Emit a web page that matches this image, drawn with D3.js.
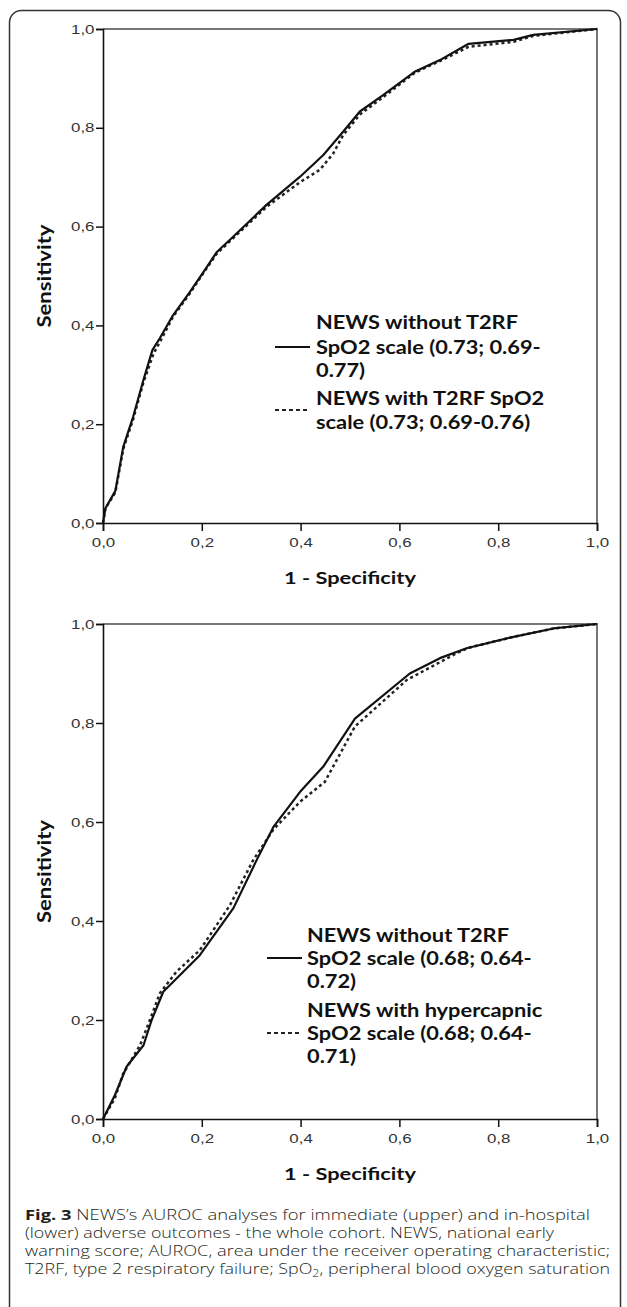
<!DOCTYPE html>
<html><head><meta charset="utf-8">
<script src="https://cdn.jsdelivr.net/npm/d3@7"></script>
<style>body{margin:0;background:#fff}</style>
</head><body>
<svg id="c" width="627" height="1307"></svg>
<script>
// ---------- data ----------
const tickValues = [0, 0.2, 0.4, 0.6, 0.8, 1.0];
const tickLabels = ["0,0", "0,2", "0,4", "0,6", "0,8", "1,0"];
const xTitle = "1 - Specificity";
const yTitle = "Sensitivity";

// upper panel (immediate adverse outcomes)
const topSolidX = [0, 0.005, 0.025, 0.041, 0.061, 0.082, 0.10, 0.115, 0.142, 0.176, 0.206, 0.23, 0.264, 0.331, 0.399, 0.446, 0.486, 0.52, 0.567, 0.632, 0.682, 0.74, 0.831, 0.871, 1];
const topSolidY = [0, 0.03, 0.065, 0.154, 0.215, 0.29, 0.35, 0.374, 0.421, 0.468, 0.512, 0.548, 0.58, 0.644, 0.701, 0.745, 0.792, 0.833, 0.866, 0.914, 0.937, 0.97, 0.978, 0.988, 1];
const topDottedX = [0, 0.005, 0.025, 0.041, 0.061, 0.082, 0.102, 0.117, 0.142, 0.176, 0.206, 0.23, 0.264, 0.331, 0.399, 0.439, 0.466, 0.486, 0.52, 0.567, 0.632, 0.682, 0.74, 0.831, 0.871, 1];
const topDottedY = [0, 0.03, 0.062, 0.15, 0.21, 0.285, 0.342, 0.37, 0.418, 0.465, 0.51, 0.545, 0.577, 0.64, 0.69, 0.715, 0.748, 0.785, 0.827, 0.862, 0.912, 0.935, 0.964, 0.974, 0.986, 1];

// lower panel (in-hospital adverse outcomes)
const botSolidX = [0, 0.024, 0.048, 0.082, 0.0985, 0.122, 0.156, 0.196, 0.264, 0.311, 0.345, 0.399, 0.446, 0.51, 0.621, 0.682, 0.736, 0.831, 0.912, 1];
const botSolidY = [0, 0.048, 0.106, 0.149, 0.2, 0.257, 0.291, 0.331, 0.426, 0.523, 0.59, 0.661, 0.712, 0.809, 0.9, 0.931, 0.951, 0.974, 0.991, 1];
const botDottedX = [0, 0.024, 0.041, 0.075, 0.095, 0.115, 0.149, 0.196, 0.257, 0.304, 0.345, 0.399, 0.449, 0.51, 0.615, 0.716, 0.74, 0.831, 0.912, 1];
const botDottedY = [0, 0.042, 0.092, 0.149, 0.2, 0.254, 0.298, 0.341, 0.432, 0.523, 0.585, 0.641, 0.681, 0.793, 0.887, 0.941, 0.952, 0.974, 0.991, 1];

const legendTopSolid = ["NEWS without T2RF", "SpO2 scale (0.73; 0.69-", "0.77)"];
const legendTopDotted = ["NEWS with T2RF SpO2", "scale (0.73; 0.69-0.76)"];
const legendBotSolid = ["NEWS without T2RF", "SpO2 scale (0.68; 0.64-", "0.72)"];
const legendBotDotted = ["NEWS with hypercapnic", "SpO2 scale (0.68; 0.64-", "0.71)"];

const captionBold = "Fig. 3";
const captionLine1 = " NEWS\u2019s AUROC analyses for immediate (upper) and in-hospital";
const captionLine2 = "(lower) adverse outcomes - the whole cohort. NEWS, national early";
const captionLine3 = "warning score; AUROC, area under the receiver operating characteristic;";
const captionLine4a = "T2RF, type 2 respiratory failure; SpO";
const captionLine4sub = "2";
const captionLine4b = ", peripheral blood oxygen saturation";

// ---------- layout ----------
const svg = d3.select("#c");
svg.append("rect").attr("width", 627).attr("height", 1307).attr("fill", "#fff");
svg.append("rect").attr("x", 9.5).attr("y", 10.5).attr("width", 611).attr("height", 1330)
  .attr("rx", 12).attr("fill", "none").attr("stroke", "#333").attr("stroke-width", 1.5);

const zip = (a, b) => a.map((v, i) => [v, b[i]]);
function setLen(sel, len) {
  sel.each(function () {
    this.setAttribute("textLength", len);
    this.setAttribute("lengthAdjust", "spacingAndGlyphs");
  });
}
function stretch(sel, k) {
  sel.each(function () {
    const w = this.getComputedTextLength();
    this.setAttribute("textLength", w * k);
    this.setAttribute("lengthAdjust", "spacingAndGlyphs");
  });
}

const LEG_FONT = "Lato, 'Open Sans', sans-serif";
const TICK_FONT = "'Liberation Sans', Arial, sans-serif";

const panels = [
  { top: 29, bottom: 523, solid: zip(topSolidX, topSolidY), dotted: zip(topDottedX, topDottedY),
    leg: { tx: 316, lx: [275, 310], solid: legendTopSolid, solidY: [322, 347, 370], solidSample: 347,
           dotted: legendTopDotted, dottedY: [398, 422], dottedSample: 410 } },
  { top: 624, bottom: 1119, solid: zip(botSolidX, botSolidY), dotted: zip(botDottedX, botDottedY),
    leg: { tx: 307, lx: [267, 302], solid: legendBotSolid, solidY: [935, 958, 981], solidSample: 958,
           dotted: legendBotDotted, dottedY: [1010, 1033, 1056], dottedSample: 1033 } }
];

panels.forEach(p => {
  const x = d3.scaleLinear().domain([0, 1]).range([103, 597]);
  const y = d3.scaleLinear().domain([0, 1]).range([p.bottom, p.top]);
  const g = svg.append("g");

  // frame (top & right)
  g.append("path").attr("d", `M${x(0)},${y(1)}H${x(1)}V${y(0)}`)
    .attr("fill", "none").attr("stroke", "#777").attr("stroke-width", 2);

  const fmt = d => tickLabels[tickValues.indexOf(d)];
  const ax = g.append("g").attr("transform", `translate(0,${y(0)})`)
    .call(d3.axisBottom(x).tickValues(tickValues).tickFormat(fmt).tickSizeOuter(0).tickSize(8).tickPadding(7));
  const ay = g.append("g").attr("transform", `translate(${x(0)},0)`)
    .call(d3.axisLeft(y).tickValues(tickValues).tickFormat(fmt).tickSizeOuter(0).tickSize(7).tickPadding(1.5));
  [ax, ay].forEach(a => {
    a.select(".domain").attr("stroke", "#111").attr("stroke-width", 1.6);
    a.selectAll(".tick line").attr("stroke", "#111").attr("stroke-width", 1.5);
    a.selectAll(".tick text").attr("font-family", TICK_FONT).attr("font-size", 13).attr("fill", "#333");
    stretch(a.selectAll(".tick text"), 1.3);
  });

  // curves
  const line = d3.line().x(d => x(d[0])).y(d => y(d[1]));
  g.append("path").datum(p.dotted).attr("d", line).attr("fill", "none")
    .attr("stroke", "#222").attr("stroke-width", 2.5).attr("stroke-dasharray", "3,3");
  g.append("path").datum(p.solid).attr("d", line).attr("fill", "none")
    .attr("stroke", "#111").attr("stroke-width", 2.2).attr("stroke-linejoin", "round");

  // axis titles
  const xt = g.append("text").attr("x", (x(0) + x(1)) / 2).attr("y", y(0) + 55).attr("dy", "0.35em")
    .attr("text-anchor", "middle").attr("font-family", LEG_FONT).attr("font-weight", "bold")
    .attr("font-size", 17.5).attr("fill", "#111").text(xTitle);
  setLen(xt, 132);
  const yt = g.append("text").attr("transform", `translate(44,${(y(0) + y(1)) / 2}) rotate(-90)`)
    .attr("dy", "0.35em").attr("text-anchor", "middle").attr("font-family", LEG_FONT)
    .attr("font-weight", "bold").attr("font-size", 19).attr("fill", "#111").text(yTitle);
  setLen(yt, 103);

  // legend
  const L = p.leg;
  g.append("line").attr("x1", L.lx[0]).attr("x2", L.lx[1]).attr("y1", L.solidSample).attr("y2", L.solidSample)
    .attr("stroke", "#111").attr("stroke-width", 2);
  g.append("line").attr("x1", L.lx[0]).attr("x2", L.lx[1] - 1).attr("y1", L.dottedSample).attr("y2", L.dottedSample)
    .attr("stroke", "#222").attr("stroke-width", 2).attr("stroke-dasharray", "4,3");
  const items = [];
  L.solid.forEach((t, i) => items.push([t, L.solidY[i]]));
  L.dotted.forEach((t, i) => items.push([t, L.dottedY[i]]));
  const lt = g.selectAll(null).data(items).join("text")
    .attr("x", L.tx).attr("y", d => d[1]).attr("dy", "0.36em")
    .attr("font-family", LEG_FONT).attr("font-weight", "bold").attr("font-size", 19)
    .attr("fill", "#111").text(d => d[0]);
  const w0 = lt.nodes()[0].getComputedTextLength();
  stretch(lt, 202 / w0);
});

// caption
const cap = svg.append("g").attr("font-family", "'Open Sans', sans-serif").attr("font-size", 14.5)
  .attr("fill", "#231f20").attr("font-weight", 300);
const c1 = cap.append("text").attr("x", 25).attr("y", 1215).attr("dy", "0.36em");
c1.append("tspan").attr("font-weight", "bold").text(captionBold);
c1.append("tspan").text(captionLine1);
const c2 = cap.append("text").attr("x", 25).attr("y", 1233).attr("dy", "0.36em").text(captionLine2);
const c3 = cap.append("text").attr("x", 25).attr("y", 1251).attr("dy", "0.36em").text(captionLine3);
const c4 = cap.append("text").attr("x", 25).attr("y", 1269).attr("dy", "0.36em");
c4.append("tspan").text(captionLine4a);
c4.append("tspan").attr("font-size", 10).attr("dy", 3).text(captionLine4sub);
c4.append("tspan").attr("dy", -3).text(captionLine4b);
setLen(c1, 565);
setLen(c2, 529);
setLen(c3, 585);
setLen(c4, 585);
</script>
</body></html>
